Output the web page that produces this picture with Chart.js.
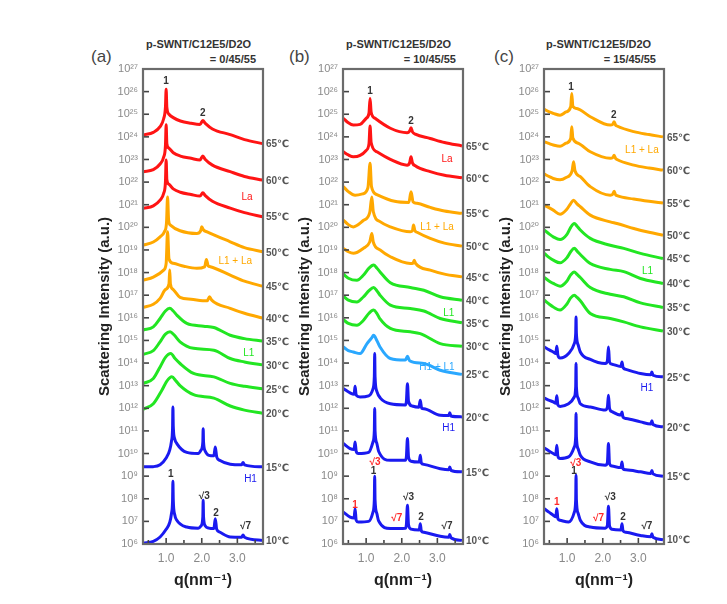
<!DOCTYPE html>
<html><head><meta charset="utf-8">
<script src="https://cdn.jsdelivr.net/npm/chart.js@4"></script>
<style>
body{margin:0;background:#fff;width:727px;height:604px;overflow:hidden;position:relative;font-family:"Liberation Sans",Arial,sans-serif}
.wrap{position:absolute;top:0;width:200px;height:604px}
.t1{position:absolute;top:38px;font:bold 11px "Liberation Sans",Arial,sans-serif;color:#333;white-space:nowrap}
.t2{position:absolute;top:53px;width:120px;text-align:right;font:bold 11px "Liberation Sans",Arial,sans-serif;color:#333;white-space:nowrap}
.let{position:absolute;top:47px;font:17px "Liberation Sans",Arial,sans-serif;color:#444}
</style></head><body>

<div class="let" style="left:91px">(a)</div>
<div class="let" style="left:289px">(b)</div>
<div class="let" style="left:494px">(c)</div>
<div class="t1" style="left:146px">p-SWNT/C12E5/D2O</div>
<div class="t1" style="left:346px">p-SWNT/C12E5/D2O</div>
<div class="t1" style="left:546px">p-SWNT/C12E5/D2O</div>
<div class="t2" style="left:136px">= 0/45/55</div>
<div class="t2" style="left:336px">= 10/45/55</div>
<div class="t2" style="left:536px">= 15/45/55</div>

<div class="wrap" style="left:90px"><canvas id="ca" width="200" height="604"></canvas></div>
<div class="wrap" style="left:290px"><canvas id="cb" width="200" height="604"></canvas></div>
<div class="wrap" style="left:491px"><canvas id="cc" width="200" height="604"></canvas></div>

<script>
// ---- DATA: each curve = [q (nm^-1), log10(intensity)] ----
const temps = ['65℃','60℃','55℃','50℃','45℃','40℃','35℃','30℃','25℃','20℃','15℃','10℃'];
const yExponents = [6,7,8,9,10,11,12,13,14,15,16,17,18,19,20,21,22,23,24,25,26,27];
const xTicks = [0.5,1.0,1.5,2.0,2.5,3.0,3.5];

// Panel (a) 0/45/55
const A65 = [[0.36,24.08],[0.64,24.2],[0.83,24.45],[0.93,24.8],[0.98,25.3],[1.0,26.1],[1.02,25.3],[1.08,25.0],[1.2,24.85],[1.4,24.7],[1.7,24.6],[1.95,24.55],[2.03,24.72],[2.1,24.6],[2.3,24.35],[2.8,24.1],[3.2,23.88],[3.71,23.7]];
const A60 = [[0.36,22.46],[0.64,22.55],[0.83,22.8],[0.93,23.1],[0.98,23.6],[1.0,24.53],[1.02,23.7],[1.08,23.5],[1.2,23.3],[1.4,23.15],[1.7,23.05],[1.95,22.98],[2.03,23.15],[2.1,23.0],[2.3,22.75],[2.8,22.46],[3.2,22.25],[3.71,22.09]];
const A55 = [[0.36,20.84],[0.64,20.95],[0.83,21.2],[0.93,21.5],[0.98,22.0],[1.0,22.98],[1.02,22.1],[1.08,21.9],[1.2,21.7],[1.4,21.55],[1.7,21.45],[1.95,21.38],[2.03,21.53],[2.1,21.4],[2.3,21.15],[2.8,20.85],[3.2,20.65],[3.71,20.47]];
const A50 = [[0.36,19.22],[0.64,19.35],[0.83,19.58],[0.95,19.8],[1.01,20.2],[1.04,21.34],[1.07,20.3],[1.12,20.1],[1.39,19.85],[1.86,19.73],[1.97,19.85],[2.0,20.03],[2.05,19.88],[2.15,19.8],[2.8,19.36],[3.2,19.1],[3.71,18.92]];
const A45 = [[0.36,17.67],[0.64,17.8],[0.93,18.11],[1.0,18.4],[1.04,19.81],[1.08,18.6],[1.2,18.41],[1.5,18.28],[1.86,18.19],[2.08,18.25],[2.13,18.58],[2.18,18.3],[2.24,18.26],[2.8,17.89],[3.2,17.62],[3.71,17.4]];
const A40 = [[0.36,16.46],[0.64,16.6],[0.83,16.86],[0.98,17.25],[1.08,17.5],[1.1,18.11],[1.12,17.5],[1.2,17.25],[1.39,16.9],[1.7,16.82],[2.15,16.75],[2.22,16.93],[2.28,16.78],[2.8,16.42],[3.2,16.2],[3.71,15.99]];
const A35 = [[0.36,15.46],[0.64,15.6],[0.83,15.97],[0.98,16.3],[1.1,16.42],[1.2,16.3],[1.3,16.12],[1.58,15.75],[2.05,15.63],[2.34,15.57],[2.8,15.23],[3.2,15.08],[3.71,14.97]];
const A30 = [[0.36,14.39],[0.64,14.55],[0.83,14.94],[0.98,15.28],[1.11,15.38],[1.22,15.25],[1.39,14.94],[1.77,14.65],[2.34,14.57],[2.8,14.2],[3.2,14.05],[3.71,13.92]];
const A25 = [[0.36,13.1],[0.64,13.32],[0.83,13.83],[0.98,14.25],[1.13,14.42],[1.25,14.2],[1.39,13.98],[1.77,13.54],[2.34,13.39],[2.8,13.1],[3.2,12.97],[3.71,12.86]];
const A20 = [[0.36,11.96],[0.64,12.2],[0.88,12.8],[1.02,13.2],[1.16,13.39],[1.28,13.2],[1.39,13.0],[1.77,12.6],[2.34,12.45],[2.8,12.1],[3.2,11.92],[3.71,11.78]];
const A15 = [[0.36,9.41],[0.64,9.42],[0.83,9.5],[1.0,9.8],[1.1,10.15],[1.15,10.55],[1.18,11.1],[1.19,12.06],[1.2,11.2],[1.24,10.65],[1.3,10.44],[1.58,10.05],[1.9,10.0],[1.98,10.15],[2.03,10.5],[2.04,11.1],[2.05,10.5],[2.1,10.1],[2.2,9.92],[2.34,9.9],[2.38,10.29],[2.42,9.85],[2.5,9.7],[2.8,9.53],[3.12,9.5],[3.16,9.6],[3.2,9.5],[3.71,9.41]];
const A10 = [[0.36,6.04],[0.64,6.12],[0.83,6.31],[1.0,6.65],[1.1,6.95],[1.15,7.35],[1.18,7.9],[1.19,8.77],[1.2,7.95],[1.24,7.3],[1.3,7.05],[1.58,6.75],[1.9,6.7],[1.98,6.8],[2.03,7.2],[2.04,7.93],[2.05,7.2],[2.1,6.8],[2.2,6.7],[2.34,6.68],[2.38,7.12],[2.42,6.65],[2.5,6.53],[2.8,6.31],[3.12,6.3],[3.16,6.4],[3.2,6.3],[3.71,6.16]];

// Panel (b) 10/45/55
const B65 = [[0.36,24.82],[0.5,24.62],[0.64,24.52],[0.83,24.55],[1.0,24.82],[1.08,25.05],[1.11,25.7],[1.14,25.1],[1.25,24.82],[1.68,24.38],[2.15,24.18],[2.22,24.25],[2.26,24.4],[2.3,24.22],[2.38,24.12],[2.8,23.93],[3.2,23.75],[3.69,23.6]];
const B60 = [[0.36,23.34],[0.5,23.2],[0.64,23.12],[0.83,23.18],[1.0,23.4],[1.08,23.7],[1.11,24.48],[1.14,23.75],[1.3,23.34],[1.68,23.0],[2.15,22.75],[2.22,22.85],[2.26,23.12],[2.3,22.85],[2.38,22.72],[2.8,22.46],[3.2,22.3],[3.69,22.19]];
const B55 = [[0.36,21.8],[0.5,21.58],[0.69,21.42],[0.9,21.48],[1.05,21.75],[1.11,22.83],[1.15,21.8],[1.3,21.45],[1.8,21.15],[2.2,21.1],[2.26,21.57],[2.32,21.12],[2.43,21.06],[2.8,20.88],[3.2,20.72],[3.69,20.62]];
const B50 = [[0.36,20.32],[0.5,20.12],[0.64,20.02],[0.92,20.3],[1.1,20.65],[1.16,21.34],[1.2,20.7],[1.39,20.25],[1.68,20.02],[2.24,19.8],[2.3,19.85],[2.33,20.1],[2.37,19.85],[2.43,19.78],[2.8,19.51],[3.2,19.3],[3.69,19.17]];
const B45 = [[0.36,19.07],[0.5,18.92],[0.64,18.85],[0.92,19.07],[1.1,19.35],[1.16,19.73],[1.2,19.35],[1.39,19.0],[1.68,18.7],[2.24,18.4],[2.32,18.42],[2.35,18.55],[2.39,18.4],[2.8,18.11],[3.2,17.93],[3.69,17.81]];
const B40 = [[0.36,17.93],[0.5,17.75],[0.74,17.66],[0.92,17.88],[1.08,18.2],[1.21,18.33],[1.3,18.2],[1.39,18.03],[1.68,17.55],[2.24,17.34],[2.62,17.22],[3.08,16.93],[3.69,16.78]];
const B35 = [[0.36,16.96],[0.5,16.78],[0.74,16.7],[0.92,16.92],[1.08,17.2],[1.21,17.34],[1.3,17.2],[1.39,17.0],[1.68,16.56],[2.24,16.41],[2.62,16.3],[3.08,15.97],[3.69,15.78]];
const B30 = [[0.36,15.92],[0.5,15.75],[0.74,15.67],[0.92,15.88],[1.08,16.2],[1.21,16.34],[1.3,16.2],[1.39,15.95],[1.68,15.53],[2.24,15.38],[2.52,15.3],[3.08,14.86],[3.69,14.74]];
const B25 = [[0.36,14.71],[0.5,14.55],[0.64,14.49],[0.83,14.42],[1.02,14.85],[1.15,15.1],[1.21,15.23],[1.3,15.0],[1.39,14.71],[1.68,14.2],[2.1,14.13],[2.16,14.3],[2.22,14.1],[2.62,13.98],[3.08,13.68],[3.69,13.5]];
const B20 = [[0.36,12.87],[0.55,12.68],[0.66,12.62],[0.69,12.97],[0.72,12.58],[0.83,12.5],[1.07,12.55],[1.19,12.85],[1.23,13.4],[1.24,14.42],[1.25,13.4],[1.3,12.75],[1.4,12.45],[1.68,12.2],[2.1,12.15],[2.13,12.3],[2.16,13.09],[2.19,12.3],[2.29,12.1],[2.48,12.05],[2.52,12.35],[2.56,12.0],[2.62,11.98],[3.08,11.69],[3.32,11.68],[3.35,11.8],[3.38,11.66],[3.69,11.62]];
const B15 = [[0.36,10.44],[0.55,10.22],[0.66,10.18],[0.69,10.51],[0.72,10.1],[0.78,10.0],[1.07,10.05],[1.19,10.5],[1.23,11.0],[1.24,11.99],[1.25,11.0],[1.3,10.45],[1.35,10.1],[1.68,9.7],[2.1,9.7],[2.13,9.85],[2.16,10.66],[2.19,9.85],[2.26,9.66],[2.49,9.62],[2.52,9.92],[2.55,9.58],[2.62,9.52],[3.08,9.33],[3.32,9.28],[3.35,9.4],[3.38,9.26],[3.69,9.19]];
const B10 = [[0.36,7.41],[0.55,7.19],[0.66,7.15],[0.69,7.56],[0.72,7.05],[0.78,6.97],[1.07,7.0],[1.19,7.4],[1.23,7.95],[1.24,8.99],[1.25,7.95],[1.3,7.35],[1.35,7.02],[1.68,6.68],[2.1,6.7],[2.13,6.85],[2.16,7.71],[2.19,6.85],[2.26,6.66],[2.49,6.62],[2.52,6.9],[2.55,6.58],[2.62,6.52],[3.08,6.34],[3.32,6.3],[3.35,6.42],[3.38,6.28],[3.69,6.16]];

// Panel (c) 15/45/55
const C65 = [[0.36,25.22],[0.5,25.1],[0.61,25.04],[0.8,24.96],[0.97,25.1],[1.1,25.33],[1.13,25.92],[1.16,25.35],[1.27,25.25],[1.65,24.89],[2.21,24.52],[2.28,24.55],[2.32,24.67],[2.36,24.52],[2.4,24.48],[2.87,24.23],[3.3,24.1],[3.69,24.0]];
const C60 = [[0.36,23.78],[0.5,23.7],[0.61,23.64],[0.8,23.58],[0.97,23.72],[1.1,23.93],[1.13,24.45],[1.16,23.95],[1.32,23.71],[1.65,23.34],[2.21,23.05],[2.28,23.08],[2.32,23.19],[2.36,23.05],[2.4,23.0],[2.87,22.75],[3.3,22.62],[3.69,22.53]];
const C55 = [[0.36,22.35],[0.5,22.24],[0.61,22.16],[0.8,22.1],[0.97,22.2],[1.14,22.5],[1.18,22.9],[1.22,22.5],[1.37,22.24],[1.65,21.8],[2.21,21.42],[2.28,21.46],[2.32,21.6],[2.36,21.44],[2.4,21.4],[2.87,21.25],[3.3,21.15],[3.69,21.08]];
const C50 = [[0.36,20.98],[0.5,20.86],[0.61,20.76],[0.8,20.58],[0.99,20.8],[1.1,21.05],[1.18,21.2],[1.27,21.05],[1.37,20.91],[1.65,20.54],[2.21,20.24],[2.4,20.17],[2.87,19.95],[3.3,19.78],[3.69,19.65]];
const C45 = [[0.36,19.88],[0.5,19.7],[0.61,19.58],[0.8,19.46],[0.99,19.68],[1.1,20.0],[1.2,20.17],[1.28,20.05],[1.37,19.88],[1.65,19.51],[2.21,19.21],[2.59,19.07],[3.06,18.85],[3.69,18.62]];
const C40 = [[0.36,18.85],[0.5,18.66],[0.61,18.55],[0.8,18.43],[0.99,18.65],[1.1,18.92],[1.2,19.07],[1.28,18.95],[1.37,18.8],[1.65,18.4],[2.21,18.14],[2.59,18.04],[3.06,17.74],[3.69,17.52]];
const C35 = [[0.36,17.78],[0.5,17.62],[0.61,17.52],[0.8,17.4],[0.99,17.62],[1.1,17.9],[1.2,18.03],[1.28,17.92],[1.37,17.78],[1.65,17.34],[2.21,17.04],[2.59,16.93],[3.06,16.66],[3.69,16.46]];
const C30 = [[0.36,16.78],[0.5,16.6],[0.61,16.48],[0.8,16.34],[0.99,16.6],[1.1,16.88],[1.2,17.0],[1.28,16.9],[1.37,16.75],[1.65,16.19],[2.21,15.97],[2.59,15.82],[3.06,15.6],[3.69,15.42]];
const C25 = [[0.36,14.71],[0.5,14.58],[0.61,14.49],[0.68,14.42],[0.71,14.74],[0.74,14.35],[0.8,14.22],[1.04,14.42],[1.2,14.86],[1.24,15.3],[1.25,16.04],[1.26,15.3],[1.31,14.8],[1.37,14.49],[1.65,14.16],[2.07,13.98],[2.13,14.1],[2.16,14.71],[2.19,14.05],[2.26,13.95],[2.51,13.85],[2.54,14.05],[2.57,13.8],[2.65,13.72],[3.06,13.54],[3.35,13.48],[3.38,13.6],[3.41,13.46],[3.69,13.39]];
const C20 = [[0.36,12.45],[0.5,12.35],[0.61,12.28],[0.68,12.22],[0.71,12.55],[0.74,12.15],[0.8,12.08],[1.04,12.2],[1.2,12.5],[1.24,12.95],[1.25,13.98],[1.26,12.95],[1.31,12.45],[1.37,12.2],[1.65,12.06],[2.07,11.92],[2.13,12.05],[2.16,12.58],[2.19,12.0],[2.26,11.85],[2.51,11.7],[2.54,11.84],[2.57,11.6],[2.65,11.55],[3.06,11.4],[3.35,11.3],[3.38,11.45],[3.41,11.28],[3.69,11.18]];
const C15 = [[0.36,10.25],[0.5,10.1],[0.61,10.0],[0.68,9.95],[0.71,10.37],[0.74,9.88],[0.8,9.78],[1.04,9.85],[1.2,10.29],[1.24,10.75],[1.25,11.77],[1.26,10.75],[1.31,10.2],[1.37,9.92],[1.65,9.63],[2.07,9.48],[2.13,9.6],[2.16,10.44],[2.19,9.55],[2.26,9.45],[2.51,9.38],[2.54,9.63],[2.57,9.32],[2.65,9.28],[3.06,9.19],[3.35,9.12],[3.38,9.25],[3.41,9.1],[3.69,9.0]];
const C10 = [[0.36,7.56],[0.5,7.4],[0.61,7.27],[0.68,7.2],[0.71,7.56],[0.74,7.12],[0.8,7.05],[1.04,6.97],[1.2,7.4],[1.24,7.95],[1.25,9.04],[1.26,7.95],[1.31,7.35],[1.37,7.05],[1.65,6.75],[2.07,6.7],[2.13,6.82],[2.16,7.67],[2.19,6.8],[2.26,6.65],[2.51,6.62],[2.54,6.9],[2.57,6.58],[2.65,6.52],[3.06,6.38],[3.35,6.32],[3.38,6.45],[3.41,6.3],[3.69,6.19]];

// phase of each curve (65℃ ... 10℃)
const phasesA = ['La','La','La','L1La','L1La','L1La','L1','L1','L1','L1','H1','H1'];
const phasesB = ['La','La','L1La','L1La','L1La','L1','L1','L1','H1L1','H1','H1','H1'];
const phasesC = ['L1La','L1La','L1La','L1La','L1','L1','L1','L1','H1','H1','H1','H1'];

// annotations: [q, log10(I), text, kind]
const annA = [[1.0,26.47,'1','k'],[2.03,25.04,'2','k'],[3.27,21.35,'La','La'],[2.94,18.5,'L1 + La','L1La'],[3.32,14.42,'L1','L1'],[3.37,8.86,'H1','H1'],[1.13,9.08,'1','k'],[2.07,8.12,'√3','k'],[2.4,7.34,'2','k'],[3.23,6.78,'√7','k']];
const annB = [[1.11,26.03,'1','k'],[2.26,24.67,'2','k'],[3.27,23.0,'La','La'],[2.99,20.02,'L1 + La','L1La'],[3.32,16.19,'L1','L1'],[2.99,13.83,'H1 + L1','H1L1'],[3.32,11.1,'H1','H1'],[1.25,9.63,'√3','r'],[1.21,9.23,'1','k'],[0.69,7.71,'1','r'],[1.86,7.12,'√7','r'],[2.19,8.08,'√3','k'],[2.54,7.19,'2','k'],[3.27,6.78,'√7','k']];
const annC = [[1.11,26.19,'1','k'],[2.31,24.96,'2','k'],[3.1,23.42,'L1 + La','L1La'],[3.26,18.08,'L1','L1'],[3.24,12.87,'H1','H1'],[1.24,9.58,'√3','r'],[1.19,9.23,'1','k'],[0.71,7.86,'1','r'],[1.88,7.12,'√7','r'],[2.21,8.05,'√3','k'],[2.57,7.19,'2','k'],[3.24,6.78,'√7','k']];

// ---- STYLE ----
const COL = {La:'#ff1414', L1La:'#ffa800', L1:'#22e622', H1L1:'#2aa8ff', H1:'#1a1af0', k:'#333333', r:'#ff2a2a'};
const SUP = {'0':'⁰','1':'¹','2':'²','3':'³','4':'⁴','5':'⁵','6':'⁶','7':'⁷','8':'⁸','9':'⁹'};
const FONT = '"Liberation Sans", "DejaVu Sans", Arial, sans-serif';

function makeChart(id, curves, phases, ann){
  const datasets = curves.map((c,i)=>({
    data: c.map(p=>({x:p[0], y:Math.pow(10,p[1])})),
    borderColor: COL[phases[i]], borderWidth: 3, pointRadius: 0,
    fill:false, cubicInterpolationMode:'monotone'
  }));
  const decor = {
    id:'decor',
    afterDatasetsDraw(chart){
      const {ctx, chartArea:ca, scales} = chart; const x = scales.x, y = scales.y;
      ctx.save();
      ctx.strokeStyle = '#444'; ctx.lineWidth = 1.6;
      y.ticks.forEach(t=>{const py = y.getPixelForValue(t.value); ctx.beginPath(); ctx.moveTo(ca.left, py); ctx.lineTo(ca.left+6, py); ctx.stroke();});
      x.ticks.forEach(t=>{const px = x.getPixelForValue(t.value); const major = Number.isInteger(t.value);
        ctx.beginPath(); ctx.moveTo(px, ca.bottom); ctx.lineTo(px, ca.bottom-(major?6:4)); ctx.stroke();});
      ctx.strokeStyle = '#6b6b6b'; ctx.lineWidth = 2.2;
      ctx.strokeRect(ca.left, ca.top, ca.right-ca.left, ca.bottom-ca.top);
      ctx.font = 'bold 10px '+FONT; ctx.fillStyle = '#555'; ctx.textBaseline = 'middle'; ctx.textAlign = 'left';
      chart.data.datasets.forEach((ds,i)=>{const last = ds.data[ds.data.length-1];
        ctx.fillText(temps[i], ca.right+3, y.getPixelForValue(last.y)+1);});
      ctx.textAlign = 'center';
      ann.forEach(a=>{
        const isPhase = a[2].length > 2 || /[LH]/.test(a[2]);
        ctx.font = (isPhase ? '10px ' : 'bold 10px ') + FONT;
        ctx.fillStyle = COL[a[3]];
        ctx.fillText(a[2], x.getPixelForValue(a[0]), y.getPixelForValue(Math.pow(10,a[1])));
      });
      ctx.restore();
    }
  };
  new Chart(document.getElementById(id), {
    type:'line',
    data:{datasets},
    options:{
      responsive:false, animation:false, devicePixelRatio:1,
      layout:{padding:{top:69, right:27, bottom:10, left:0}},
      plugins:{legend:{display:false}, tooltip:{enabled:false}},
      scales:{
        x:{type:'linear', min:0.35, max:3.72,
          grid:{display:false, drawTicks:false}, border:{display:false},
          afterBuildTicks:(s)=>{s.ticks = xTicks.map(v=>({value:v}));},
          afterFit:(s)=>{s.height = 50;},
          ticks:{padding:7, autoSkip:false, maxRotation:0, color:'#888', font:{size:12, family:FONT},
            callback:(v)=>Number.isInteger(v) ? v.toFixed(1) : ''},
          title:{display:true, text:'q(nm⁻¹)', color:'#222', font:{size:16, weight:'bold', family:FONT}, padding:{top:0, bottom:4}}
        },
        y:{type:'logarithmic', min:1e6, max:1e27,
          grid:{display:false, drawTicks:false}, border:{display:false},
          afterBuildTicks:(s)=>{s.ticks = yExponents.map(e=>({value:Math.pow(10,e)}));},
          afterFit:(s)=>{s.width = 53;},
          ticks:{padding:5, autoSkip:false, color:'#8a8a8a', font:{size:11, family:FONT},
            callback:(v)=>{const e = String(Math.round(Math.log10(v))); return '10'+e.split('').map(d=>SUP[d]).join('');}},
          title:{display:true, text:'Scattering Intensity (a.u.)', color:'#222', font:{size:15, weight:'bold', family:FONT}, padding:{top:6, bottom:0}}
        }
      }
    },
    plugins:[decor]
  });
}

makeChart('ca', [A65,A60,A55,A50,A45,A40,A35,A30,A25,A20,A15,A10], phasesA, annA);
makeChart('cb', [B65,B60,B55,B50,B45,B40,B35,B30,B25,B20,B15,B10], phasesB, annB);
makeChart('cc', [C65,C60,C55,C50,C45,C40,C35,C30,C25,C20,C15,C10], phasesC, annC);
</script>
</body></html>
